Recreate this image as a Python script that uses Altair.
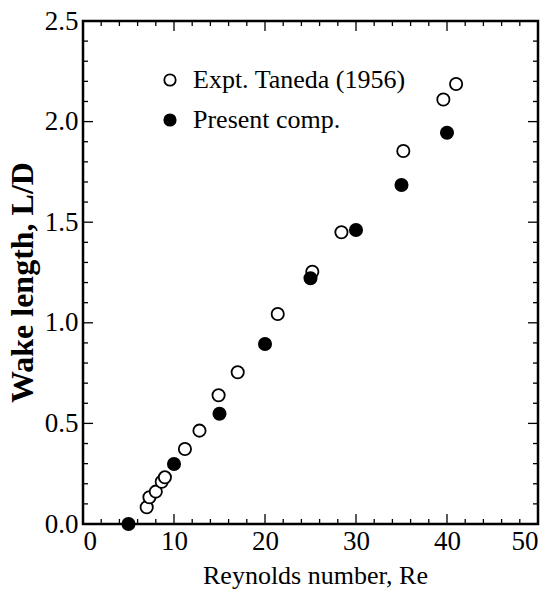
import altair as alt
import pandas as pd

# ---- data ----
expt_re = [7.0, 7.3, 8.0, 8.65, 9.0, 11.2, 12.8, 14.9, 17.0, 21.4, 25.2, 28.4, 35.2, 39.6, 41.0]
expt_L = [0.083, 0.133, 0.161, 0.21, 0.232, 0.373, 0.464, 0.64, 0.754, 1.044, 1.254, 1.45, 1.854, 2.11, 2.187]
present_re = [5, 10, 15, 20, 25, 30, 35, 40]
present_L = [0.0, 0.298, 0.548, 0.895, 1.221, 1.461, 1.685, 1.945]

series_names = ["Expt. Taneda (1956)", "Present comp."]

x_major = [0, 10, 20, 30, 40, 50]
x_minor = [v for v in range(0, 51, 2) if v % 10 != 0]
y_major = [0.0, 0.5, 1.0, 1.5, 2.0, 2.5]
y_minor = [round(i * 0.1, 1) for i in range(0, 26) if i % 5 != 0]

W, H = 455, 503
FONT = "Liberation Serif"

rows = []
for r, l in zip(expt_re, expt_L):
    rows.append({"Re": r, "L": l, "series": series_names[0], "ord": 0})
for r, l in zip(present_re, present_L):
    rows.append({"Re": r, "L": l, "series": series_names[1], "ord": 1})
df = pd.DataFrame(rows)

xscale = alt.Scale(domain=[0, 50], nice=False, zero=False)
yscale = alt.Scale(domain=[0, 2.5], nice=False, zero=False)

x_axis = alt.Axis(values=x_major, format="d", ticks=False, domain=False, grid=False,
                  labelFont=FONT, labelFontSize=27, labelColor="black", labelPadding=4,
                  title="Reynolds number, Re", titleFont=FONT, titleFontSize=26,
                  titleFontWeight="normal", titleColor="black",
                  titleX=232, titleY=59, titleAlign="center", titleBaseline="alphabetic")
y_axis = alt.Axis(values=y_major, format=".1f", ticks=False, domain=False, grid=False,
                  labelFont=FONT, labelFontSize=27, labelColor="black", labelPadding=5,
                  title="Wake length, L/D", titleFont=FONT, titleFontSize=32,
                  titleFontWeight="bold", titleColor="black", titleAngle=-90,
                  titleX=-51, titleY=261, titleAlign="center", titleBaseline="alphabetic")

points = alt.Chart(df).mark_circle(size=150, stroke="black", strokeWidth=1.8, opacity=1).encode(
    x=alt.X("Re:Q", scale=xscale, axis=x_axis),
    y=alt.Y("L:Q", scale=yscale, axis=y_axis),
    fill=alt.Fill("series:N",
                  scale=alt.Scale(domain=series_names, range=["white", "black"]),
                  legend=alt.Legend(title=None, orient="none", legendX=74, legendY=46,
                                    symbolType="circle", symbolSize=130, symbolStrokeColor="black",
                                    symbolStrokeWidth=1.8, labelFont=FONT, labelFontSize=26,
                                    labelColor="black", labelOffset=10, rowPadding=14, padding=0,
                                    labelLimit=400)),
    order=alt.Order("ord:Q"),
)


def xticks(vals, length, top):
    d = pd.DataFrame({"Re": vals})
    y0 = 0 if top else H
    y1 = length if top else H - length
    return alt.Chart(d).mark_rule(color="black", strokeWidth=1.3).encode(
        x=alt.X("Re:Q", scale=xscale, axis=x_axis),
        y=alt.value(y0), y2=alt.value(y1))


def yticks(vals, length, right):
    d = pd.DataFrame({"L": vals})
    x0 = W if right else 0
    x1 = W - length if right else length
    return alt.Chart(d).mark_rule(color="black", strokeWidth=1.3).encode(
        y=alt.Y("L:Q", scale=yscale, axis=y_axis),
        x=alt.value(x0), x2=alt.value(x1))


layers = [
    points,
    xticks(x_major, 10, False), xticks(x_major, 10, True),
    xticks(x_minor, 5, False), xticks(x_minor, 5, True),
    yticks(y_major, 10, False), yticks(y_major, 10, True),
    yticks(y_minor, 5, False), yticks(y_minor, 5, True),
]

chart = alt.layer(*layers).properties(
    width=W, height=H,
    autosize=alt.AutoSizeParams(type="none"),
    padding={"left": 83, "top": 21, "right": 16, "bottom": 69},
    background="white",
).configure_view(stroke="black", strokeWidth=2.5)

chart.save("out.html", embed_options={"renderer": "svg", "actions": False})
